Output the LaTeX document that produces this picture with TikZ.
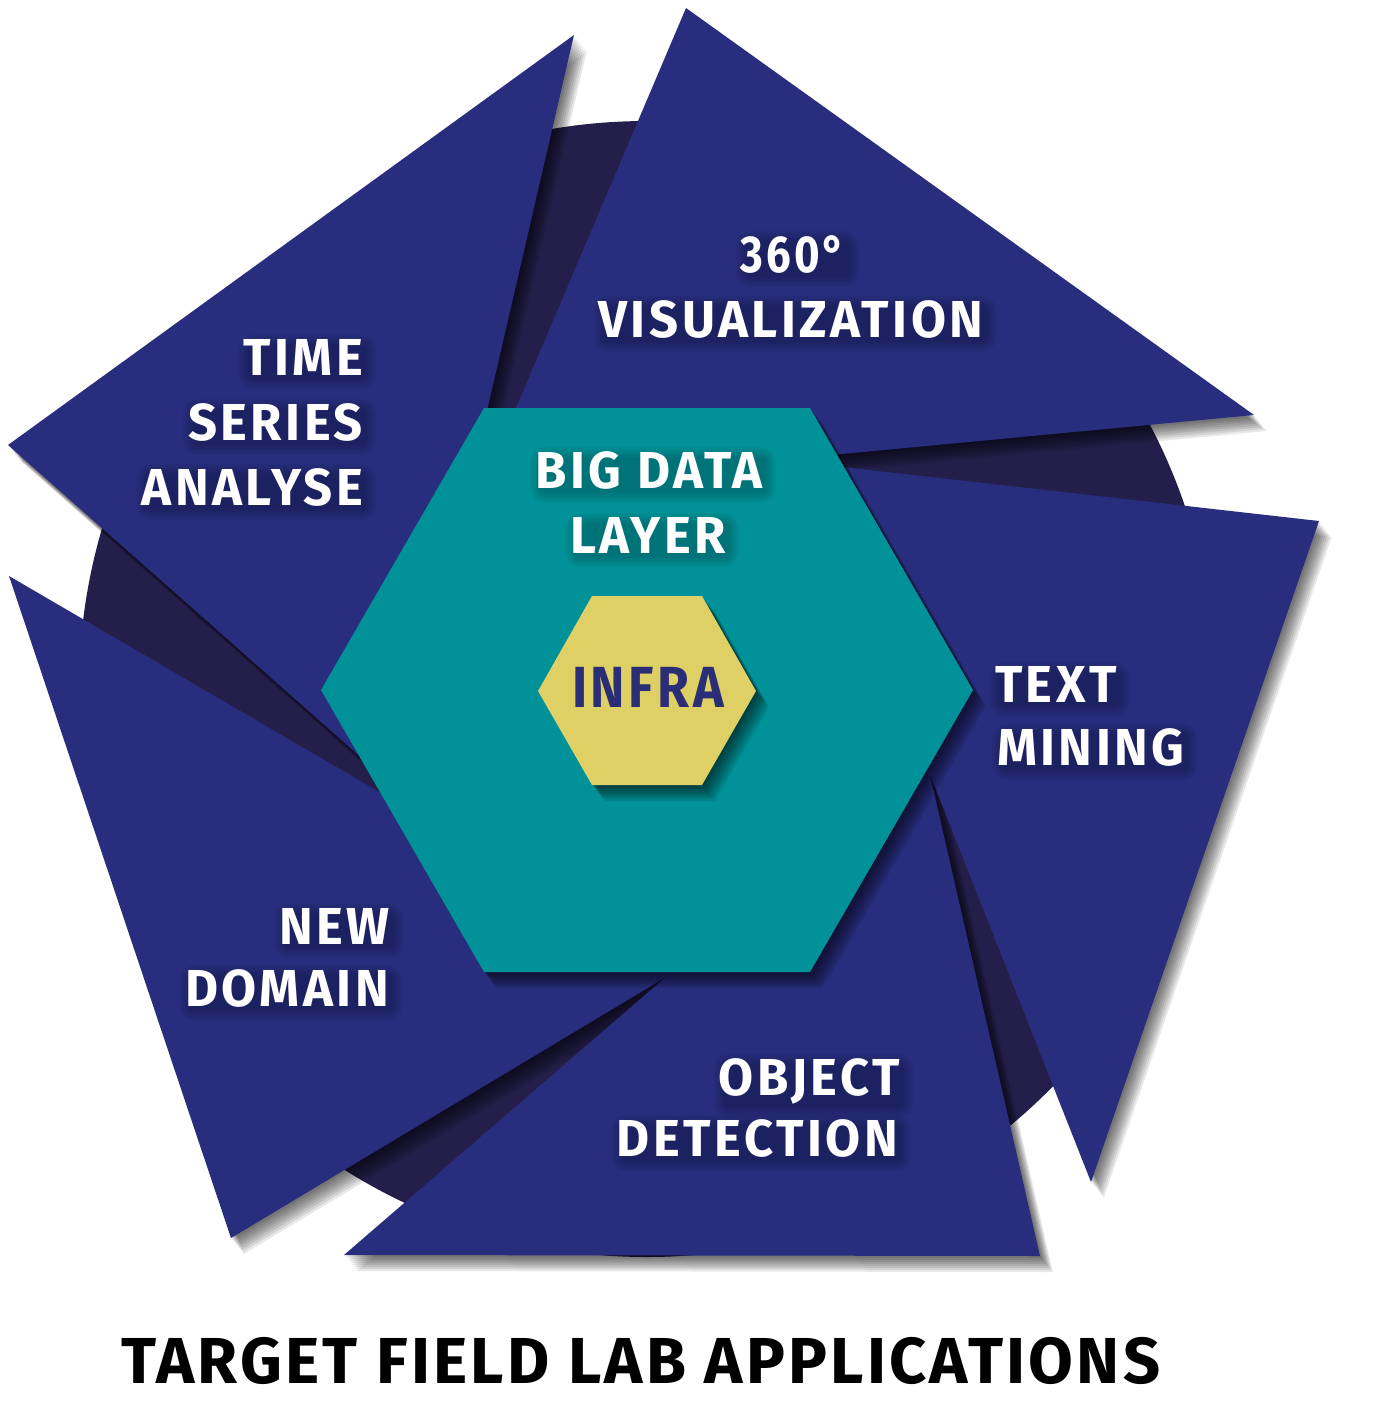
\documentclass[tikz,border=0pt]{standalone}
\usepackage{fontspec}
\usepackage{graphicx}
\newfontfamily\labfont{Fira Sans}[LetterSpace=7]
\newfontfamily\titfont{Fira Sans}[LetterSpace=5]
\definecolor{navy}{RGB}{40,45,125}
\definecolor{deepnavy}{RGB}{36,31,74}
\definecolor{hexteal}{RGB}{0,146,152}
\definecolor{hexyellow}{RGB}{222,208,101}
\definecolor{infranavy}{RGB}{42,46,118}
\pgfdeclarelayer{txt}
\pgfsetlayers{main,txt}
\newsavebox\measbox
\newlength\measlen
\newcommand\lblfont{\labfont\bfseries\fontsize{52}{65}\selectfont}
\newcommand\infrafont{\labfont\bfseries\fontsize{58}{65}\selectfont}
\newcommand\titlefont{\titfont\bfseries\fontsize{65}{70}\selectfont}
\newcommand\fitw[3]{\savebox\measbox{#3}\setlength\measlen{\wd\measbox}\pgfmathsetmacro#1{#2/\measlen}}
\newcommand\softshadow[1]{\foreach \sd in {2,4,...,16}{\fill[black,opacity=0.09,shift={(0.8*\sd,\sd)}] #1;}}
% #1 name, #2 x, #3 y, #4 anchor, #5 colour, #6 x-scale, #7 text
\newcommand\lab[7]{%
  \begin{pgfonlayer}{txt}\node[lbl,anchor=#4,text=#5] (#1) at (#2,#3) {\scalebox{#6}[1]{#7}};\end{pgfonlayer}%
  \foreach \k in {1,...,6}{\fill[black,opacity=0.035,rounded corners={2pt*\k+2pt}]
     ([shift={(7-2*\k,2+2*\k)}]#1.south west) rectangle ([shift={(1+2*\k,8-2*\k)}]#1.north east);}}
\begin{document}
\fitw\lsx{385}{\lblfont VISUALIZATION}%
\fitw\dsx{105}{\lblfont 360°}%
\fitw\isx{152}{\infrafont INFRA}%
\fitw\tsx{1039}{\titlefont TARGET FIELD LAB APPLICATIONS}%
\begin{tikzpicture}[x=1pt,y=-1pt,
  lbl/.style={font=\lblfont, inner sep=0pt, outer sep=0pt}]
\fill[white] (0,0) rectangle (1376,1401);
\useasboundingbox (0,0) rectangle (1376,1401);
% background disc
\fill[deepnavy] (647,689) circle[radius=568pt];
% shadows of the five blades
\softshadow{(574,35)--(8,445)--(399,791)--cycle}
\softshadow{(686,8)--(1254,415)--(482,488)--cycle}
\softshadow{(1319,521)--(1091,1182)--(807,463)--cycle}
\softshadow{(1040,1256)--(344,1255)--(925,753)--cycle}
\softshadow{(9,576)--(231,1238)--(681,968)--cycle}
% blades
\fill[navy] (574,35)--(8,445)--(399,791)--cycle;
\fill[navy] (686,8)--(1254,415)--(482,488)--cycle;
\fill[navy] (1319,521)--(1091,1182)--(807,463)--cycle;
\fill[navy] (1040,1256)--(344,1255)--(925,753)--cycle;
\fill[navy] (9,576)--(231,1238)--(681,968)--cycle;
% blade labels
\lab{t360}{793}{272}{base}{white}{\dsx}{360°}
\lab{tvis}{791}{337}{base}{white}{\lsx}{VISUALIZATION}
\lab{ttime}{363}{375}{base east}{white}{\lsx}{TIME}
\lab{tseries}{363}{440}{base east}{white}{\lsx}{SERIES}
\lab{tanalyse}{363}{505}{base east}{white}{\lsx}{ANALYSE}
\lab{ttext}{995}{702}{base west}{white}{\lsx}{TEXT}
\lab{tmining}{997}{765}{base west}{white}{\lsx}{MINING}
\lab{tnew}{390}{944}{base east}{white}{\lsx}{NEW}
\lab{tdomain}{389}{1006}{base east}{white}{\lsx}{DOMAIN}
\lab{tobject}{900}{1095}{base east}{white}{\lsx}{OBJECT}
\lab{tdetect}{898}{1156}{base east}{white}{\lsx}{DETECTION}
% big data hexagon
\softshadow{(484,408)--(810,408)--(973,690)--(810,972)--(484,972)--(321,690)--cycle}
\fill[hexteal] (484,408)--(810,408)--(973,690)--(810,972)--(484,972)--(321,690)--cycle;
\lab{tbig}{649}{488}{base}{white}{\lsx}{BIG DATA}
\lab{tlayer}{648}{553}{base}{white}{\lsx}{LAYER}
% infra hexagon
\softshadow{(592,596)--(702,596)--(756,691)--(702,785)--(592,785)--(538,691)--cycle}
\fill[hexyellow] (592,596)--(702,596)--(756,691)--(702,785)--(592,785)--(538,691)--cycle;
\node[font=\infrafont, text=infranavy, inner sep=0pt, anchor=base] (tinfra) at (648,707) {\scalebox{\isx}[1]{INFRA}};
% title
\node[font=\titlefont, text=black, inner sep=0pt, anchor=base west] (title) at (121,1383) {\scalebox{\tsx}[1]{TARGET FIELD LAB APPLICATIONS}};
\end{tikzpicture}
\end{document}
